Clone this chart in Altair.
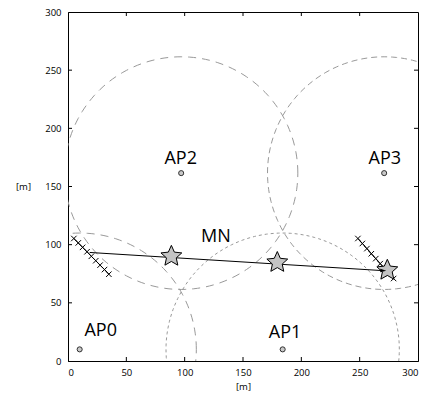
import math
import altair as alt
import pandas as pd

# Access points
ap_names = ["AP0", "AP1", "AP2", "AP3"]
ap_x = [10, 184, 97, 271]
ap_y = [10, 10, 161.5, 161.5]
ap_radius = [100, 100, 100, 100]
ap_dash = [[8, 6], [3, 3], [8, 6], [6, 4]]

# label anchor positions
label_text = ["AP0", "AP1", "AP2", "AP3", "MN"]
label_x = [28, 186, 96.6, 271.6, 126.8]
label_y = [25.5, 24, 174, 174, 106.5]

# trajectory of the MN
traj_x = [18.6, 272.8]
traj_y = [93.3, 77.5]

# star positions
star_x = [88.6, 179.4, 273.7]
star_y = [90, 84.7, 78]

# cross samples
crossL_x = [5, 8.8, 12.5, 16.3, 20, 23.8, 27.5, 31.3, 35]
crossL_y = [105.3, 101.5, 97.7, 93.9, 90, 86.2, 82.4, 78.6, 74.6]
crossR_x = [248.5, 252.3, 256.2, 260, 263.8, 267.6, 271.4, 275.3, 279.1]
crossR_y = [105.3, 101, 96.6, 92.2, 88, 83.7, 79.4, 75.2, 70.9]

tick_values = [0, 50, 100, 150, 200, 250, 300]
inner_ticks = [50, 100, 150, 200, 250]

W, H = 350, 349
TICK = 4
FONT = "Open Sans"

# five-pointed star symbol path (unit box)
_pts = []
for k in range(10):
    a = math.radians(-90 + 36 * k)
    r = 1.0 if k % 2 == 0 else 0.47
    _pts.append(f"{r * math.cos(a):.3f},{r * math.sin(a):.3f}")
STAR = "M" + "L".join(_pts) + "Z"

xs = alt.Scale(domain=[0, 300], nice=False, zero=False)
ys = alt.Scale(domain=[0, 300], nice=False, zero=False)

xaxis = alt.Axis(values=tick_values, title="[m]", ticks=False, labelPadding=6, grid=False,
                 domainColor="black", titleFontWeight="normal", titlePadding=5)
yaxis = alt.Axis(values=tick_values, title="[m]", ticks=False, labelPadding=7, grid=False,
                 domainColor="black", titleAngle=0, titleFontWeight="normal", titleX=-45,
                 titleY=H / 2, titleBaseline="middle", titleAlign="center")

XN = alt.X("x:Q", scale=xs, axis=None)
YN = alt.Y("y:Q", scale=ys, axis=None)

layers = []

# invisible carrier of labelled axes
pdf = pd.DataFrame({"x": ap_x, "y": ap_y})
layers.append(alt.Chart(pdf).mark_point(opacity=0).encode(
    x=alt.X("x:Q", scale=xs, axis=xaxis), y=alt.Y("y:Q", scale=ys, axis=yaxis)))

# inward tick marks on all four sides
tdf_ticks = pd.DataFrame({"v": inner_ticks})
tick_base = alt.Chart(tdf_ticks).mark_rule(color="black", strokeWidth=1)
layers.append(tick_base.encode(x=alt.X("v:Q", scale=xs, axis=None),
                               y=alt.value(H - TICK), y2=alt.value(H)))
layers.append(tick_base.encode(x=alt.X("v:Q", scale=xs, axis=None),
                               y=alt.value(0), y2=alt.value(TICK)))
layers.append(tick_base.encode(y=alt.Y("v:Q", scale=ys, axis=None),
                               x=alt.value(0), x2=alt.value(TICK)))
layers.append(tick_base.encode(y=alt.Y("v:Q", scale=ys, axis=None),
                               x=alt.value(W - TICK), x2=alt.value(W)))

# coverage circles, drawn from centre and radius
for i in range(4):
    c = alt.Chart(alt.sequence(0, 361, 2, as_="deg")).transform_calculate(
        x=f"{ap_x[i]} + {ap_radius[i]} * cos(datum.deg * PI / 180)",
        y=f"{ap_y[i]} + {ap_radius[i]} * sin(datum.deg * PI / 180)",
    ).mark_line(clip=True, color="#999999", strokeWidth=1, strokeDash=ap_dash[i]).encode(
        x=XN, y=YN, order="deg:Q",
    )
    layers.append(c)

# crosses
for cxs, cys in [(crossL_x, crossL_y), (crossR_x, crossR_y)]:
    df = pd.DataFrame({"x": cxs, "y": cys, "i": list(range(len(cxs)))})
    base = alt.Chart(df).encode(x=XN, y=YN)
    layers.append(base.mark_line(color="black", strokeWidth=1).encode(order="i:Q"))
    layers.append(base.mark_point(shape="M-1,-1L1,1M-1,1L1,-1", size=30, color="black",
                                  strokeWidth=1, opacity=1))

# trajectory line
tdf = pd.DataFrame({"x": traj_x, "y": traj_y, "i": [0, 1]})
layers.append(alt.Chart(tdf).mark_line(color="black", strokeWidth=1).encode(
    x=XN, y=YN, order="i:Q"))

# stars
sdf = pd.DataFrame({"x": star_x, "y": star_y})
layers.append(alt.Chart(sdf).mark_point(shape=STAR, size=480, filled=True, fill="#c4c4c4",
                                        stroke="black", strokeWidth=1, opacity=1).encode(
    x=XN, y=YN))

# arrow head at end of trajectory
adf = pd.DataFrame({"x": traj_x[-1:], "y": traj_y[-1:]})
layers.append(alt.Chart(adf).mark_point(shape="M0,0L-1,-0.3L-1,0.3Z", size=144, filled=True,
                                        color="black", opacity=1, angle=3.5).encode(
    x=XN, y=YN))

# access point markers
layers.append(alt.Chart(pdf).mark_point(shape="circle", size=26, filled=True, fill="#c8c8c8",
                                        stroke="#333333", strokeWidth=1, opacity=1).encode(
    x=XN, y=YN))

# labels
ldf = pd.DataFrame({"x": label_x, "y": label_y, "t": label_text})
layers.append(alt.Chart(ldf).mark_text(font=FONT, fontSize=18, color="black",
                                       align="center", baseline="middle").encode(
    x=XN, y=YN, text="t:N"))

chart = alt.layer(*layers).resolve_axis(x="independent", y="independent").properties(
    width=W, height=H,
    autosize=alt.AutoSizeParams(type="none"),
    padding={"left": 68, "top": 12, "right": 9, "bottom": 33},
    background="white",
).configure_view(stroke="black", strokeWidth=1).configure_axis(
    labelFont=FONT, labelFontSize=9.5, labelColor="black",
    titleFont=FONT, titleFontSize=9.5, titleColor="black",
)

chart.save("out.html", embed_options={"renderer": "svg", "actions": False})
